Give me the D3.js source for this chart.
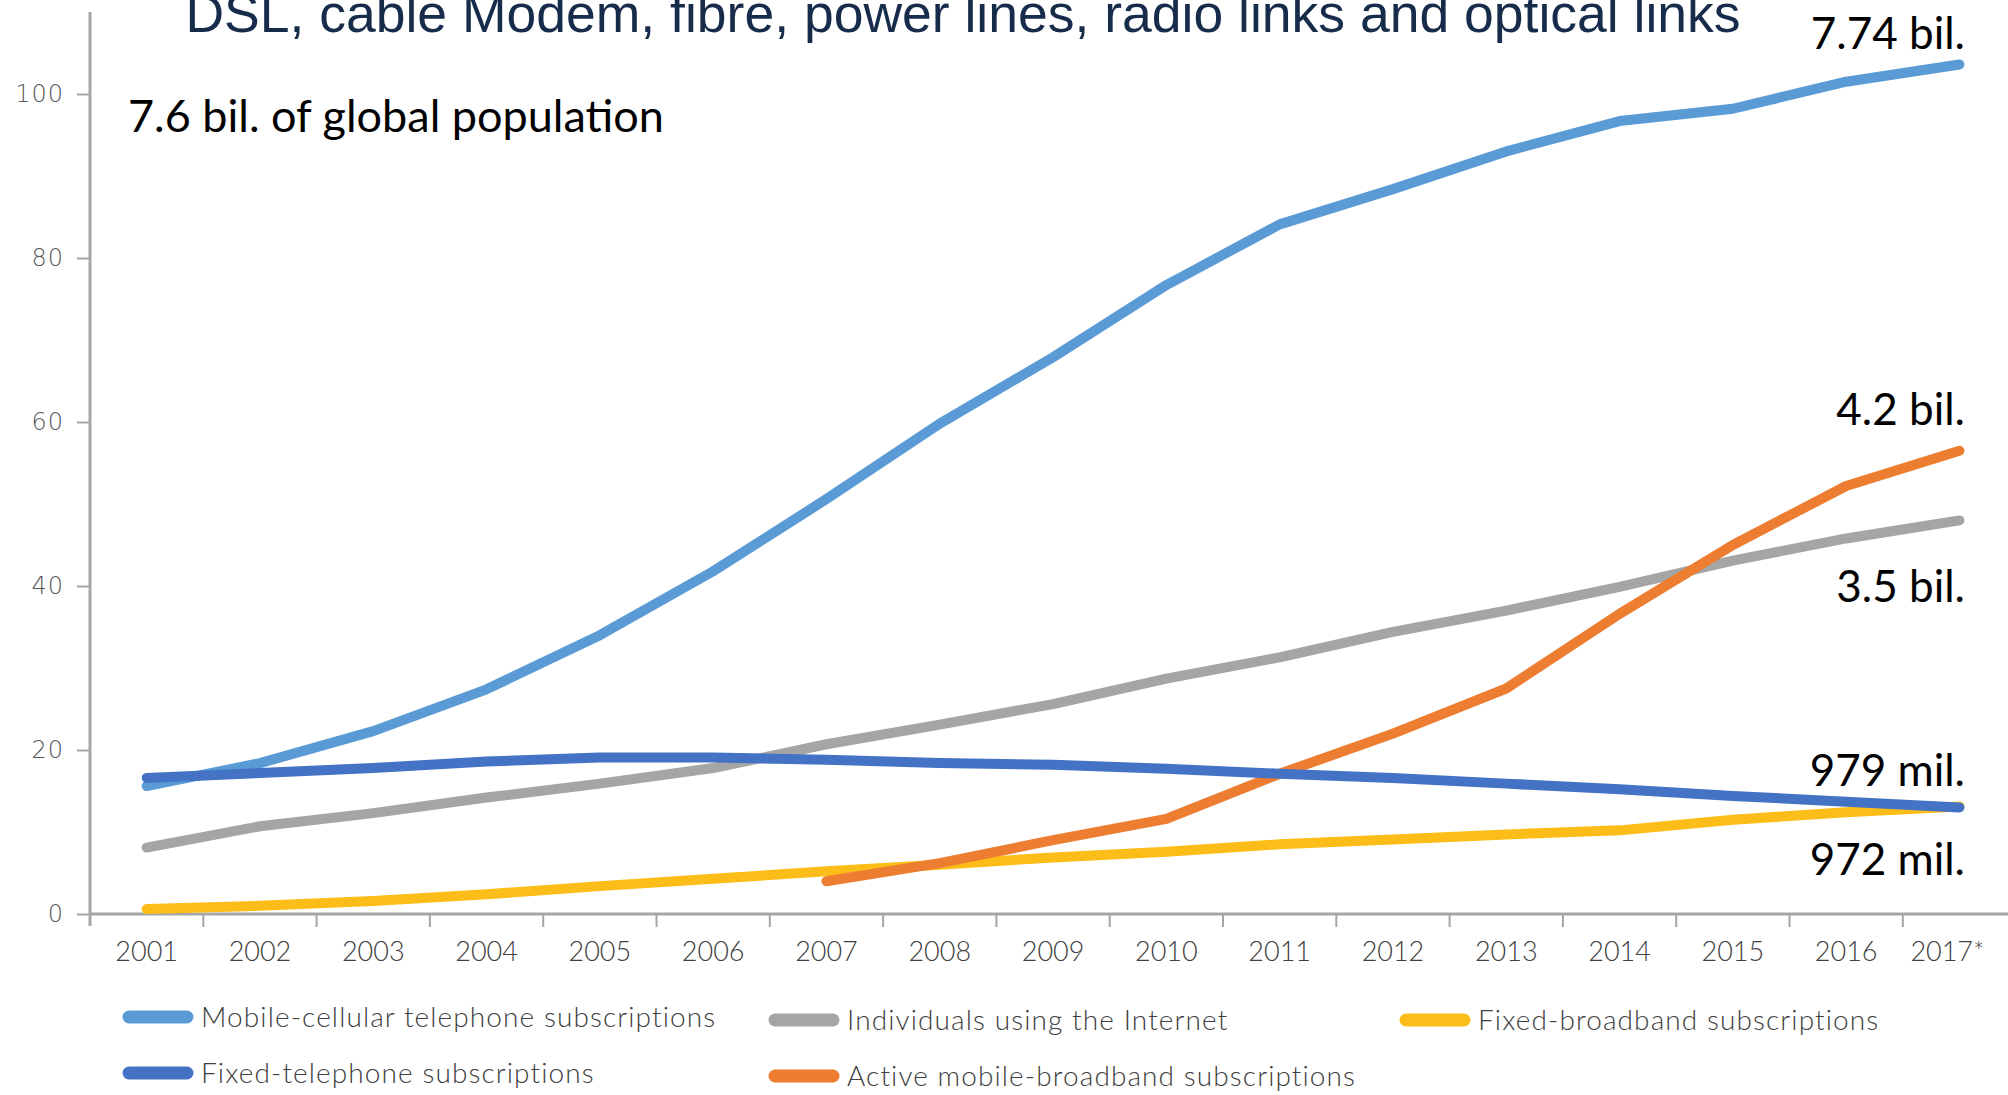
<!DOCTYPE html>
<html>
<head>
<meta charset="utf-8">
<script src="https://cdn.jsdelivr.net/npm/d3@7"></script>
<style>
  html, body { margin: 0; padding: 0; background: #fff; }
  #container { width: 2008px; height: 1095px; overflow: hidden; }
</style>
</head>
<body>
<div id="container"></div>
<script>
// categories (x axis)
const years = ["2001", "2002", "2003", "2004", "2005", "2006", "2007", "2008", "2009",
  "2010", "2011", "2012", "2013", "2014", "2015", "2016", "2017*"];

// per 100 inhabitants
const mobileCellular = [15.6, 18.4, 22.3, 27.4, 34.0, 41.8, 50.6, 59.8, 67.9, 76.7, 84.1, 88.4, 93.0, 96.7, 98.2, 101.5, 103.6];
const fixedTelephone = [16.6, 17.2, 17.8, 18.6, 19.1, 19.1, 18.8, 18.4, 18.2, 17.7, 17.1, 16.6, 15.9, 15.2, 14.4, 13.7, 13.0];
const internetUsers = [8.1, 10.7, 12.3, 14.2, 15.9, 17.8, 20.7, 23.1, 25.6, 28.7, 31.3, 34.4, 37.0, 39.9, 43.1, 45.8, 48.0];
const mobileBroadband = [null, null, null, null, null, null, 4.0, 6.2, 9.0, 11.6, 17.1, 22.0, 27.5, 36.6, 45.0, 52.2, 56.5];
const fixedBroadband = [0.6, 1.0, 1.6, 2.4, 3.4, 4.3, 5.2, 6.0, 6.9, 7.6, 8.5, 9.1, 9.7, 10.2, 11.5, 12.4, 13.1];

const yTicks = [0, 20, 40, 60, 80, 100];

// series names / colours, in legend order
const seriesNames = ["Mobile-cellular telephone subscriptions", "Fixed-telephone subscriptions",
  "Individuals using the Internet", "Active mobile-broadband subscriptions", "Fixed-broadband subscriptions"];
const seriesColors = ["#5b9bd5", "#4472c4", "#a5a5a5", "#ed7d31", "#fdbd18"];
const seriesValues = [mobileCellular, fixedTelephone, internetUsers, mobileBroadband, fixedBroadband];

// annotations at the end of the lines
const endLabels = ["7.74 bil.", "4.2 bil.", "3.5 bil.", "979 mil.", "972 mil."];
const title = "DSL, cable Modem, fibre, power lines, radio links and optical links";
const popLabel = "7.6 bil. of global population";

const width = 2008, height = 1095;
const marginLeft = 90, marginTop = 94, marginBottom = 181;
const band = 113.3;

const svg = d3.select("#container")
  .append("svg")
  .attr("width", width)
  .attr("height", height)
  .attr("viewBox", [0, 0, width, height]);

const x = d3.scaleBand().domain(years).range([marginLeft, marginLeft + band * years.length]);
const y = d3.scaleLinear().domain([0, 100]).range([height - marginBottom, marginTop]);
const cx = (i) => x(years[i]) + x.bandwidth() / 2;

const axisColor = "#a6a6a6";

// y axis: line + ticks + labels
const yAxis = svg.append("g")
  .attr("transform", `translate(${marginLeft},0)`)
  .call(d3.axisLeft(y).tickValues(yTicks).tickSize(13).tickPadding(13))
  .call((g) => g.select(".domain").remove());
yAxis.selectAll(".tick line").attr("stroke", axisColor).attr("stroke-width", 2);
yAxis.selectAll(".tick text")
  .attr("font-family", "DejaVu Sans")
  .attr("font-weight", 300)
  .attr("font-size", 24)
  .attr("letter-spacing", 1)
  .attr("fill", "#595959");
svg.append("line")
  .attr("x1", marginLeft).attr("x2", marginLeft)
  .attr("y1", 12).attr("y2", y(0) + 12)
  .attr("stroke", axisColor).attr("stroke-width", 3);

// x axis: baseline, ticks between categories, labels
svg.append("line")
  .attr("x1", marginLeft).attr("x2", width)
  .attr("y1", y(0)).attr("y2", y(0))
  .attr("stroke", axisColor).attr("stroke-width", 3);
svg.append("g")
  .selectAll("line")
  .data(years.slice(1))
  .join("line")
  .attr("x1", (d) => x(d)).attr("x2", (d) => x(d))
  .attr("y1", y(0)).attr("y2", y(0) + 13)
  .attr("stroke", axisColor).attr("stroke-width", 2);
svg.append("g")
  .attr("font-family", "Lato")
  .attr("font-weight", 300)
  .attr("font-size", 27)
  .attr("fill", "#404040")
  .attr("text-anchor", "middle")
  .selectAll("text")
  .data(years)
  .join("text")
  .attr("x", (d, i) => cx(i) - (i === years.length - 1 ? 12 : 0))
  .attr("y", y(0) + 47)
  .text((d) => d);

// lines (drawn so that the dark blue sits on top)
const line = d3.line()
  .defined((d) => d != null)
  .x((d, i) => cx(i))
  .y((d) => y(d));
const drawOrder = [4, 2, 0, 3, 1];
svg.append("g")
  .attr("fill", "none")
  .attr("stroke-width", 10)
  .attr("stroke-linecap", "round")
  .attr("stroke-linejoin", "round")
  .selectAll("path")
  .data(drawOrder)
  .join("path")
  .attr("stroke", (k) => seriesColors[k])
  .attr("d", (k) => line(seriesValues[k]));

// title, partly cut by the top edge as in the source slide
svg.append("text")
  .attr("x", 963)
  .attr("y", 32)
  .attr("text-anchor", "middle")
  .attr("font-family", "Liberation Sans, Arial")
  .attr("font-size", 53.5)
  .attr("fill", "#172b4a")
  .text(title);

svg.append("text")
  .attr("x", 128)
  .attr("y", 132)
  .attr("font-family", "Lato")
  .attr("font-size", 45)
  .attr("fill", "#000")
  .text(popLabel);

// end-of-line labels
const endLabelY = [49, 425, 602, 786, 875];
svg.append("g")
  .attr("font-family", "Lato")
  .attr("font-size", 44)
  .attr("fill", "#000")
  .attr("text-anchor", "end")
  .selectAll("text")
  .data(endLabels)
  .join("text")
  .attr("x", 1965)
  .attr("y", (d, i) => endLabelY[i])
  .text((d) => d);

// legend: two rows, three columns
const legendX = [129, 775, 1406];
const legendY = [1017, 1073];
const legendPos = [[0, 0], [0, 1], [1, 0], [1, 1], [2, 0]];
const legend = svg.append("g")
  .selectAll("g")
  .data(seriesNames)
  .join("g")
  .attr("transform", (d, i) => `translate(${legendX[legendPos[i][0]]},${legendY[legendPos[i][1]] + (legendPos[i][0] > 0 ? 3 : 0)})`);
legend.append("line")
  .attr("x1", 0).attr("x2", 58)
  .attr("stroke", (d, i) => seriesColors[i])
  .attr("stroke-width", 13)
  .attr("stroke-linecap", "round");
legend.append("text")
  .attr("x", 72)
  .attr("dy", "0.35em")
  .attr("font-family", "Lato")
  .attr("font-weight", 300)
  .attr("font-size", 28)
  .attr("letter-spacing", 1.1)
  .attr("fill", "#404040")
  .text((d) => d);
</script>
</body>
</html>
